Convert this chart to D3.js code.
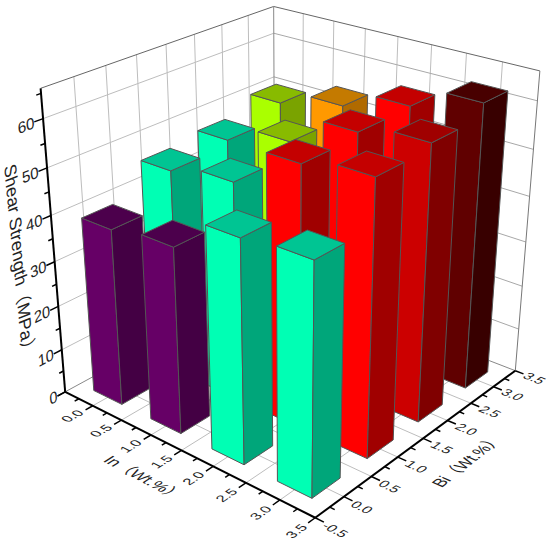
<!DOCTYPE html>
<html>
<head>
<meta charset="utf-8">
<script src="https://cdn.jsdelivr.net/npm/d3@7"></script>
<style>
  body { margin: 0; background: #fff; }
  text { font-family: "Liberation Sans", "Noto Sans CJK SC", sans-serif; fill: #222; }
</style>
</head>
<body>
<div id="chart"></div>
<script>
var inValues = [0, 1, 2, 3];
var biValues = [0, 1, 2, 3];
// shear strength, one row per Bi, one column per In
var strength = [
  [39.2, 40.7, 47.7, 48.7],
  [45.9, 48.1, 56.3, 58.3],
  [47.2, 51.1, 57.3, 59.4],
  [50.4, 53.7, 57.6, 62.2]
];
var axisTicks = [-0.5, 0, 0.5, 1, 1.5, 2, 2.5, 3, 3.5];
var zTicks = [0, 10, 20, 30, 40, 50, 60];
var zMinor = [5, 15, 25, 35, 45, 55, 65];

var width = 550, height = 546, zTop = 66, halfBar = 0.25;

var svg = d3.select("#chart").append("svg")
    .attr("width", width)
    .attr("height", height);

var xs = d3.scaleLinear().domain([-0.5, 3.5]).range([0, 1]);
var ys = d3.scaleLinear().domain([-0.5, 3.5]).range([0, 1]);
var zs = d3.scaleLinear().domain([0, zTop]).range([0, 1]);

// frame of the box, used to fit the perspective of the plot
var frame = [
  [-0.5, -0.5, 0, 66, 391], [3.5, -0.5, 0, 315, 519], [3.5, 3.5, 0, 514, 372],
  [-0.5, -0.5, 66, 43, 86], [3.5, 3.5, 66, 538, 73], [-0.5, 3.5, 66, 275, 7],
  [1.5, -0.5, 0, 182, 451], [3.5, 1.5, 0, 423, 440], [-0.5, -0.5, 30, 55, 262],
  [-0.5, -0.5, 60, 44, 118], [3.5, 3.5, 30, 526, 235], [1.5, 3.5, 66, 404, 38], [-0.5, 1.5, 66, 157, 46]
];

function solve(A, b) {
  var n = b.length;
  for (var i = 0; i < n; i++) {
    var p = i;
    for (var r = i + 1; r < n; r++) if (Math.abs(A[r][i]) > Math.abs(A[p][i])) p = r;
    var t = A[i]; A[i] = A[p]; A[p] = t;
    var s = b[i]; b[i] = b[p]; b[p] = s;
    for (var r = i + 1; r < n; r++) {
      var f = A[r][i] / A[i][i];
      for (var c = i; c < n; c++) A[r][c] -= f * A[i][c];
      b[r] -= f * b[i];
    }
  }
  var out = new Array(n);
  for (var i = n - 1; i >= 0; i--) {
    var v = b[i];
    for (var c = i + 1; c < n; c++) v -= A[i][c] * out[c];
    out[i] = v / A[i][i];
  }
  return out;
}

function fitCamera() {
  var N = d3.range(11).map(function() { return d3.range(11).map(function() { return 0; }); });
  var rhs = d3.range(11).map(function() { return 0; });
  frame.forEach(function(f) {
    var X = xs(f[0]), Y = ys(f[1]), Z = zs(f[2]);
    var rows = [
      [X, Y, Z, 1, 0, 0, 0, 0, -f[3] * X, -f[3] * Y, -f[3] * Z],
      [0, 0, 0, 0, X, Y, Z, 1, -f[4] * X, -f[4] * Y, -f[4] * Z]
    ];
    rows.forEach(function(row, k) {
      for (var i = 0; i < 11; i++) {
        for (var j = 0; j < 11; j++) N[i][j] += row[i] * row[j];
        rhs[i] += row[i] * f[3 + k];
      }
    });
  });
  return solve(N, rhs);
}
var cam = fitCamera();

function project(x, y, z) {
  var X = xs(x), Y = ys(y), Z = zs(z);
  var w = cam[8] * X + cam[9] * Y + cam[10] * Z + 1;
  return [(cam[0] * X + cam[1] * Y + cam[2] * Z + cam[3]) / w,
          (cam[4] * X + cam[5] * Y + cam[6] * Z + cam[7]) / w];
}

function seg(g, a, b, color, w) {
  var p = project.apply(null, a), q = project.apply(null, b);
  g.append("line")
    .attr("x1", p[0]).attr("y1", p[1])
    .attr("x2", q[0]).attr("y2", q[1])
    .attr("stroke", color)
    .attr("stroke-width", w);
}

// Walls and floor
var grid = svg.append("g");
var gridColor = "#bdbdbd";
axisTicks.slice(1, -1).forEach(function(t) {
  seg(grid, [t, -0.5, 0], [t, 3.5, 0], gridColor, 1);
  seg(grid, [-0.5, t, 0], [3.5, t, 0], gridColor, 1);
  seg(grid, [t, 3.5, 0], [t, 3.5, zTop], gridColor, 1);
  seg(grid, [-0.5, t, 0], [-0.5, t, zTop], gridColor, 1);
});
zTicks.slice(1).forEach(function(z) {
  seg(grid, [-0.5, -0.5, z], [-0.5, 3.5, z], gridColor, 1);
  seg(grid, [-0.5, 3.5, z], [3.5, 3.5, z], "#a8a8a8", 1);
});
seg(grid, [-0.5, -0.5, zTop], [-0.5, 3.5, zTop], "#666", 1);
seg(grid, [-0.5, 3.5, zTop], [3.5, 3.5, zTop], "#666", 1);
seg(grid, [3.5, 3.5, 0], [3.5, 3.5, zTop], "#777", 1);
seg(grid, [-0.5, 3.5, 0], [-0.5, 3.5, zTop], "#888", 1);
seg(grid, [-0.5, 3.5, 0], [3.5, 3.5, 0], "#888", 1);
seg(grid, [-0.5, 3.5, 0], [-0.5, -0.5, 0], "#888", 1);

// Axes
var axes = svg.append("g");
seg(axes, [-0.5, -0.5, 0], [-0.5, -0.5, zTop], "#000", 2);
seg(axes, [-0.5, -0.5, 0], [3.5, -0.5, 0], "#000", 2);
seg(axes, [3.5, -0.5, 0], [3.5, 3.5, 0], "#000", 2);
axisTicks.forEach(function(t) {
  seg(axes, [t, -0.5, 0], [t, -0.62, 0], "#000", 1.5);
  seg(axes, [3.5, t, 0], [3.62, t, 0], "#000", 1.5);
  if (t < 3.5) {
    seg(axes, [t + 0.25, -0.5, 0], [t + 0.25, -0.57, 0], "#000", 1.5);
    seg(axes, [3.5, t + 0.25, 0], [3.57, t + 0.25, 0], "#000", 1.5);
  }
});
zTicks.forEach(function(z) {
  seg(axes, [-0.5, -0.5, z], [-0.5, -0.63, z], "#000", 1.5);
});
zMinor.forEach(function(z) {
  seg(axes, [-0.5, -0.5, z], [-0.5, -0.57, z], "#000", 1.5);
});

// Bars, painted from the back corner to the front corner
var barColor = d3.scaleThreshold()
    .domain([42, 49, 52.5, 55, 59, 61])
    .range([
      {front: "#660066", side: "#440044", top: "#4c004c"},
      {front: "#00ffb4", side: "#00a67a", top: "#00c593"},
      {front: "#aaff00", side: "#7aa300", top: "#88bb00"},
      {front: "#ff9900", side: "#b06a00", top: "#c47a00"},
      {front: "#ff0000", side: "#a00000", top: "#c40000"},
      {front: "#cc0000", side: "#800000", top: "#a00000"},
      {front: "#600000", side: "#380000", top: "#480000"}
    ]);

var cells = [];
d3.range(biValues.length - 1, -1, -1).forEach(function(j) {
  inValues.forEach(function(v, i) {
    cells.push({inPct: v, biPct: biValues[j], value: strength[j][i]});
  });
});

function face(pts) {
  return "M" + pts.map(function(p) { return project.apply(null, p).join(","); }).join("L") + "Z";
}

var bars = svg.selectAll("g.bar").data(cells).enter().append("g").attr("class", "bar")
    .attr("stroke", "#555")
    .attr("stroke-width", 1)
    .attr("stroke-linejoin", "round");

bars.append("path")
    .attr("fill", function(d) { return barColor(d.value).front; })
    .attr("d", function(d) {
      var a = d.inPct - halfBar, b = d.inPct + halfBar, y = d.biPct - halfBar;
      return face([[a, y, 0], [b, y, 0], [b, y, d.value], [a, y, d.value]]);
    });
bars.append("path")
    .attr("fill", function(d) { return barColor(d.value).side; })
    .attr("d", function(d) {
      var x = d.inPct + halfBar, a = d.biPct - halfBar, b = d.biPct + halfBar;
      return face([[x, a, 0], [x, b, 0], [x, b, d.value], [x, a, d.value]]);
    });
bars.append("path")
    .attr("fill", function(d) { return barColor(d.value).top; })
    .attr("d", function(d) {
      var a = d.inPct - halfBar, b = d.inPct + halfBar, c = d.biPct - halfBar, e = d.biPct + halfBar;
      return face([[a, c, d.value], [b, c, d.value], [b, e, d.value], [a, e, d.value]]);
    });

// Text lying in the plane of the box: the baseline and the glyph height follow world directions
function planeText(label, at, along, up, size, anchor) {
  var o = project.apply(null, at);
  var alongEnd = project(at[0] + along[0], at[1] + along[1], at[2] + along[2]);
  var upEnd = project(at[0] + up[0], at[1] + up[1], at[2] + up[2]);
  var ux = alongEnd[0] - o[0], uy = alongEnd[1] - o[1], ul = Math.hypot(ux, uy);
  var vx = upEnd[0] - o[0], vy = upEnd[1] - o[1], vl = Math.hypot(vx, vy);
  svg.append("text")
    .attr("transform", "matrix(" + [ux / ul * size[0], uy / ul * size[0], -vx / vl * size[1], -vy / vl * size[1], o[0], o[1]].join(",") + ")")
    .attr("font-size", 1)
    .attr("text-anchor", anchor)
    .text(label);
}

var inDir = [1, 0, 0], biDir = [0, 1, 0], zDir = [0, 0, 10];

axisTicks.slice(1).forEach(function(t) {
  planeText(t.toFixed(1), [t + 0.05, -0.68, 0], biDir, [-1, 0, 0], [14, 13], "end");
});
axisTicks.forEach(function(t) {
  planeText(t.toFixed(1), [3.65, t - 0.09, 0], inDir, biDir, [14, 13], "start");
});
zTicks.forEach(function(z) {
  planeText(String(z), [-0.5, -0.63, z - 1.2], biDir, zDir, [16, 16], "end");
});

planeText("Shear Strength（MPa）", [-0.5, -1.11, 53.5], [0, 0, -10], biDir, [18, 18], "start");
planeText("In（Wt.%）", [1.55, -1.24, 0], inDir, biDir, [16, 16], "middle");
planeText("Bi（Wt.%）", [4.23, 1.44, 0], biDir, [-1, 0, 0], [15, 17], "middle");
</script>
</body>
</html>
